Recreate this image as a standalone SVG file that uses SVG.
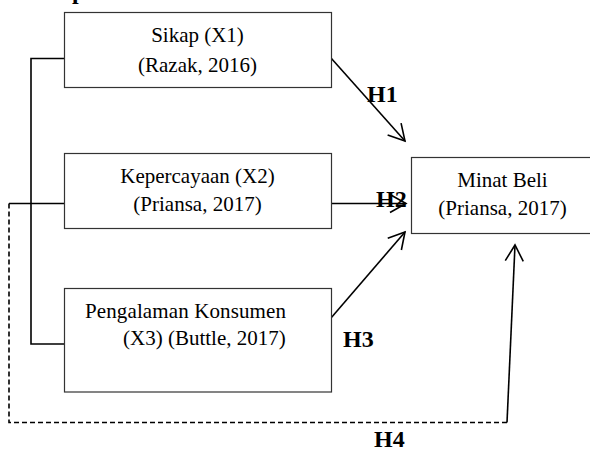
<svg xmlns="http://www.w3.org/2000/svg" width="590" height="452" viewBox="0 0 590 452">
<defs>
<style>
.box{fill:#fff;stroke:#333;stroke-width:1.2}
.t{font-family:"Liberation Serif","Times New Roman",serif;font-size:21px;fill:#000}
.h{font-family:"Liberation Serif","Times New Roman",serif;font-size:24px;font-weight:bold;fill:#000}
.c{fill:none;stroke:#000;stroke-width:1.6}
.d{fill:none;stroke:#000;stroke-width:1.6;stroke-dasharray:5,3}
</style>
<marker id="ah" markerUnits="userSpaceOnUse" viewBox="-20 -12 24 24" refX="0" refY="0" markerWidth="24" markerHeight="24" orient="auto">
<path d="M-16,-9 L0,0 L-16,9" fill="none" stroke="#000" stroke-width="1.6"/>
</marker>
</defs>
<rect width="590" height="452" fill="#fff"/>
<text class="h" x="72" y="-1" font-size="22">p</text>
<g id="connectors">
<polyline class="c" points="64,58.5 31,58.5 31,344 64,344"/>
<line class="c" x1="9" y1="203.5" x2="64" y2="203.5"/>
<polyline class="d" points="9,203.5 9,422.5 507,422.5"/>
<line class="c" x1="331" y1="58" x2="405" y2="141" marker-end="url(#ah)"/>
<line class="c" x1="331" y1="203.5" x2="406" y2="203.5" marker-end="url(#ah)"/>
<line class="c" x1="331" y1="318" x2="405" y2="232" marker-end="url(#ah)"/>
<line class="c" x1="507" y1="422.5" x2="515" y2="245" marker-end="url(#ah)"/>
</g>
<g id="x1">
<rect class="box" x="64.5" y="12.5" width="267" height="75"/>
<text class="t" x="197.5" y="42" text-anchor="middle">Sikap (X1)</text>
<text class="t" x="197.5" y="72" text-anchor="middle" font-size="23">(Razak, 2016)</text>
</g>
<g id="x2">
<rect class="box" x="64.5" y="153.5" width="267" height="75"/>
<text class="t" x="197.5" y="183" text-anchor="middle">Kepercayaan (X2)</text>
<text class="t" x="197.5" y="211" text-anchor="middle" font-size="22">(Priansa, 2017)</text>
</g>
<g id="x3">
<rect class="box" x="64.5" y="288.5" width="267" height="103.5"/>
<text class="t" x="85" y="318" textLength="201">Pengalaman Konsumen</text>
<text class="t" x="123" y="345">(X3) (Buttle, 2017)</text>
</g>
<g id="y">
<rect class="box" x="411.5" y="157.5" width="190" height="76"/>
<text class="t" x="502.5" y="187" text-anchor="middle">Minat Beli</text>
<text class="t" x="502.5" y="215" text-anchor="middle">(Priansa, 2017)</text>
</g>
<g id="labels">
<text class="h" x="367" y="102">H1</text>
<text class="h" x="376" y="207">H2</text>
<text class="h" x="343" y="347">H3</text>
<text class="h" x="374" y="447">H4</text>
</g>
</svg>
